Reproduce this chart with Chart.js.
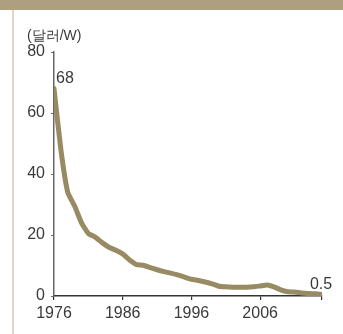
<!DOCTYPE html>
<html><head><meta charset="utf-8">
<script src="https://cdn.jsdelivr.net/npm/chart.js@4/dist/chart.umd.min.js"></script>
<style>
html,body{margin:0;padding:0;background:#fff;width:343px;height:334px;overflow:hidden;}
#hdr{position:absolute;left:0;top:0;width:343px;height:10px;background:#ae9f80;}
#lb{position:absolute;left:12px;top:10px;width:2px;height:324px;background:#ddd6c9;}
#wrap{position:absolute;left:0;top:0;width:343px;height:334px;}
</style></head>
<body>
<div id="hdr"></div><div id="lb"></div>
<div id="wrap"><canvas id="c"></canvas></div>
<script>
const years = [1976,1977,1978,1979,1980,1981,1982,1983,1984,1985,1986,1987,1988,1989,1990,1991,1992,1993,1994,1995,1996,1997,1998,1999,2000,2001,2002,2003,2004,2005,2006,2007,2008,2009,2010,2011,2012,2013,2014,2015];
const prices = [68,48,34,29.5,24,20.5,19.3,17.5,16,15,13.8,11.8,10.3,10.1,9.3,8.6,8.0,7.5,6.9,6.2,5.5,5.1,4.6,4.0,3.2,3.0,2.9,2.9,2.9,3.0,3.3,3.6,3.0,2.0,1.4,1.3,1.0,0.8,0.7,0.5];
const xTicks = [1976,1986,1996,2006,2015];
const xTickLabels = ['1976','1986','1996','2006',''];
const yTicks = [0,20,40,60,80];
const unitLabel = '(달러/W)';
const annotations = [{year:1976, text:'68'},{year:2015, text:'0.5'}];

const FONT = '"Liberation Sans",Arial,sans-serif';
const TXT = '#3a3a3a';

const textPlugin = {
  id:'txt',
  afterDraw(chart){
    const ctx = chart.ctx, xs = chart.scales.x, ys = chart.scales.y;
    ctx.save();
    ctx.fillStyle = TXT;
    ctx.font = '14px ' + FONT;
    ctx.textAlign = 'left'; ctx.textBaseline = 'alphabetic';
    ctx.fillText(unitLabel, 27, 40);
    ctx.font = '16px ' + FONT;
    annotations.forEach(a=>{
      const i = years.indexOf(a.year);
      const px = xs.getPixelForValue(a.year), py = ys.getPixelForValue(prices[i]);
      if (a.year === years[0]) { ctx.textAlign='left'; ctx.fillText(a.text, px+2, py-6); }
      else { ctx.textAlign='center'; ctx.fillText(a.text, px-1, py-5); }
    });
    ctx.restore();
  }
};

new Chart(document.getElementById('c'), {
  type:'line',
  data:{datasets:[{
    data: years.map((y,i)=>({x:y,y:prices[i]})),
    borderColor:'#988a62', borderWidth:5, pointRadius:0, tension:0.15,
    borderJoinStyle:'round', borderCapStyle:'round', fill:false
  }]},
  options:{
    responsive:true, maintainAspectRatio:false, animation:false,
    layout:{padding:{top:52,right:21,bottom:0,left:0}},
    plugins:{legend:{display:false},tooltip:{enabled:false}},
    scales:{
      x:{type:'linear',min:1976,max:2015,
        afterBuildTicks(s){s.ticks = xTicks.map(v=>({value:v}));},
        afterFit(s){s.height = 38;},
        border:{display:true,color:'#333',width:1.5},
        grid:{display:true,drawOnChartArea:false,drawTicks:true,tickLength:4,color:'#333',lineWidth:1.2},
        ticks:{color:TXT,font:{family:FONT,size:16},padding:4,maxRotation:0,autoSkip:false,
          callback:(v)=>{const i=xTicks.indexOf(v);return i>=0?xTickLabels[i]:'';}}
      },
      y:{min:0,max:80,
        afterBuildTicks(s){s.ticks = yTicks.map(v=>({value:v}));},
        afterFit(s){s.width = 54;},
        border:{display:true,color:'#666',width:1.5},
        grid:{display:true,drawOnChartArea:false,drawTicks:true,tickLength:3,color:'#666',lineWidth:1},
        ticks:{color:TXT,font:{family:FONT,size:16},padding:6,callback:v=>String(v)}
      }
    }
  },
  plugins:[textPlugin]
});
</script>
</body></html>
